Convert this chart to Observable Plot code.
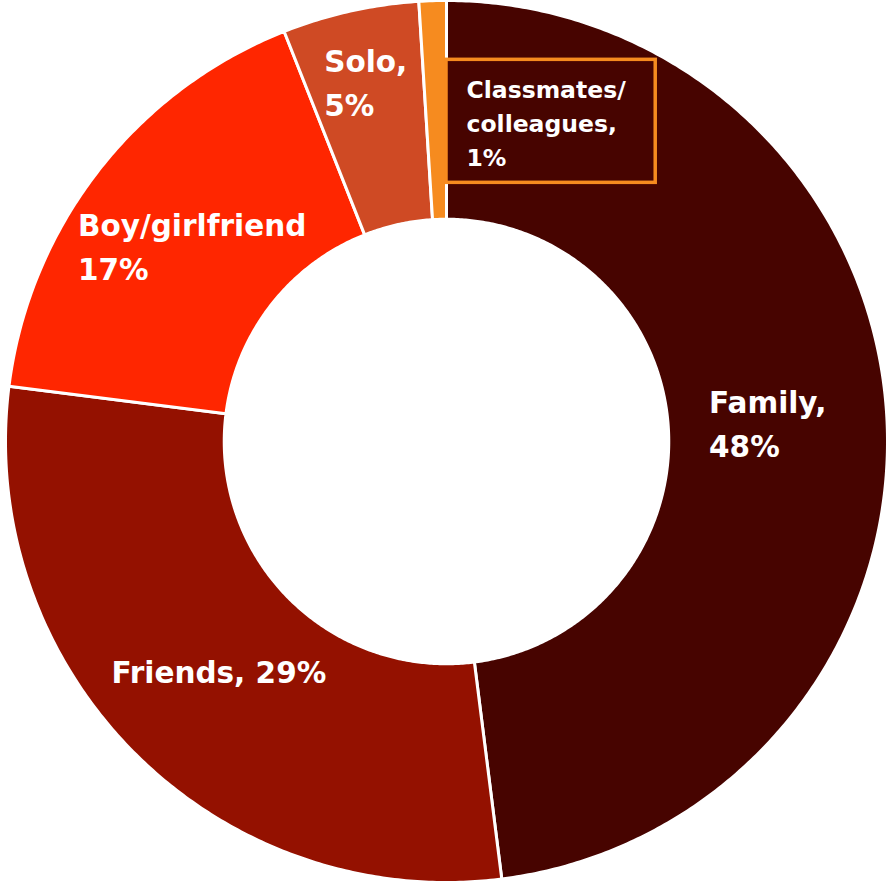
<!DOCTYPE html>
<html><head><meta charset="utf-8">
<script src="https://cdn.jsdelivr.net/npm/d3@7"></script>
<script src="https://cdn.jsdelivr.net/npm/@observablehq/plot@0.6"></script>
<style>body{margin:0;background:#fff}</style>
</head><body><div id="chart"></div>
<script>
const categories = ["Family", "Friends", "Boy/girlfriend", "Solo", "Classmates/colleagues"];
const values = [48, 29, 17, 5, 1];
const labels = ["Family,\n48%", "Friends, 29%", "Boy/girlfriend\n17%", "Solo,\n5%", "Classmates/\ncolleagues,\n1%"];
const colors = ["#470400", "#941100", "#ff2600", "#cf4a24", "#f68b1f"];

const W = 888, H = 882, R = 441, cx = 446, cy = 441, innerFrac = 0.504;
const FONT = "DejaVu Sans";
const mainSize = 29.5, boxSize = 23.5;

const ctx = document.createElement("canvas").getContext("2d");
function maxLineWidth(text, size) {
  ctx.font = `bold ${size}px "${FONT}"`;
  return d3.max(text.split("\n"), l => ctx.measureText(l).width);
}

const arcs = d3.pie().sort(null).value(d => d)(values);
const pts = [];
arcs.forEach((a, i) => {
  const n = Math.max(4, Math.ceil((a.endAngle - a.startAngle) / (Math.PI / 360)));
  const outer = d3.range(n + 1).map(k => a.startAngle + (a.endAngle - a.startAngle) * k / n);
  outer.forEach(t => pts.push({cat: categories[i], x: Math.sin(t), y: Math.cos(t)}));
  outer.slice().reverse().forEach(t => pts.push({cat: categories[i], x: innerFrac * Math.sin(t), y: innerFrac * Math.cos(t)}));
});

const mainLabels = arcs.slice(0, 4).map((a, i) => {
  const mid = (a.startAngle + a.endAngle) / 2;
  const r = values[i] < 10 ? 0.84 : 0.73;
  const w = maxLineWidth(labels[i], mainSize);
  return {text: labels[i], x: r * Math.sin(mid) - (w / 2) / R, y: r * Math.cos(mid)};
});

const last = arcs[4];
const bw = maxLineWidth(labels[4], boxSize);
const padL = 20, padR = 30, boxH = 123;
const boxY = 0.726;
const boxX = Math.sin(last.endAngle);
const box = [{x1: boxX, x2: boxX + (bw + padL + padR) / R, y1: boxY - boxH / 2 / R, y2: boxY + boxH / 2 / R}];
const boxLabel = [{text: labels[4], x: boxX + padL / R, y: boxY}];

const chart = Plot.plot({
  width: W, height: H,
  margin: 0,
  x: {domain: [-cx / R, (W - cx) / R], axis: null},
  y: {domain: [-(H - cy) / R, cy / R], axis: null},
  color: {domain: categories, range: colors},
  style: {background: "#fff"},
  marks: [
    Plot.line(pts, {x: "x", y: "y", z: "cat", fill: "cat", stroke: "white", strokeWidth: 3, strokeLinejoin: "round", curve: "linear-closed"}),
    Plot.text(mainLabels, {x: "x", y: "y", text: "text", textAnchor: "start", lineAnchor: "middle", fill: "white", fontSize: mainSize, fontWeight: "bold", fontFamily: FONT, lineHeight: 44 / mainSize}),
    Plot.rect(box, {x1: "x1", x2: "x2", y1: "y1", y2: "y2", fill: colors[0], stroke: colors[4], strokeWidth: 3.5}),
    Plot.text(boxLabel, {x: "x", y: "y", text: "text", textAnchor: "start", lineAnchor: "middle", fill: "white", fontSize: boxSize, fontWeight: "bold", fontFamily: FONT, lineHeight: 34 / boxSize})
  ]
});
document.getElementById("chart").appendChild(chart);
</script>
</body></html>
